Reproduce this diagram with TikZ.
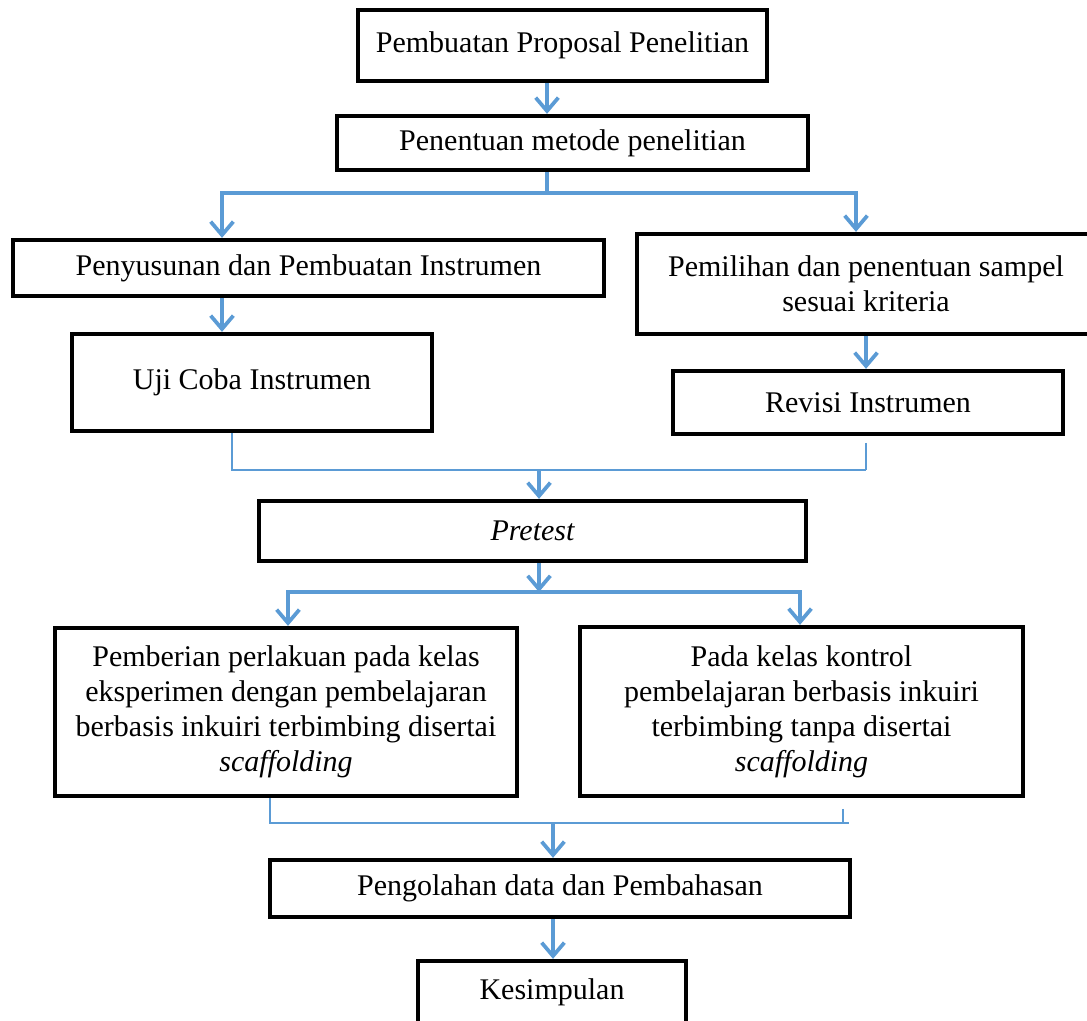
\documentclass[tikz,border=0pt]{standalone}
\usepackage{fontspec}
\setmainfont{Liberation Serif}
\usetikzlibrary{arrows.meta}
\definecolor{flowblue}{HTML}{5B9BD5}
\begin{document}
\begin{tikzpicture}[x=0.75pt,y=-0.75pt,
  box/.style={draw=black, line width=3.2pt, fill=white, align=center, inner sep=0pt,
    font=\fontsize{22.5}{26.25}\selectfont},
  sz/.style 2 args={minimum width=#1*0.75pt, minimum height=#2*0.75pt},
  conn/.style={draw=flowblue, line width=2.8pt},
  thinconn/.style={draw=flowblue, line width=1.6pt},
  arr/.style={conn, -{Straight Barb[length=10pt,width=17pt]}},
]
\useasboundingbox (0,0) rectangle (1087,1020);

% boxes
\node[box, sz={409}{71}]  (b1)  at (562.5,45.5) {Pembuatan Proposal Penelitian};
\node[box, sz={471}{54}]  (b2)  at (572.5,143)  {Penentuan metode penelitian};
\node[box, sz={591}{56}]  (b3)  at (308.5,268)  {Penyusunan dan Pembuatan Instrumen};
\node[box, sz={458}{100}] (b4)  at (866,284)    {Pemilihan dan penentuan sampel\\sesuai kriteria};
\node[box, sz={360}{97}]  (b5)  at (252,382.5)  {Uji Coba Instrumen};
\node[box, sz={390}{63}]  (b6)  at (868,402.5)  {Revisi Instrumen};
\node[box, sz={547}{60}]  (b7)  at (532.5,531)  {\itshape Pretest};
\node[box, sz={462}{168}] (b8)  at (286,712)    {Pemberian perlakuan pada kelas\\eksperimen dengan pembelajaran\\berbasis inkuiri terbimbing disertai\\\itshape scaffolding};
\node[box, sz={443}{169}] (b9)  at (801.5,711.5) {Pada kelas kontrol\\pembelajaran berbasis inkuiri\\terbimbing tanpa disertai\\\itshape scaffolding};
\node[box, sz={580}{57}]  (b10) at (560,888.5)  {Pengolahan data dan Pembahasan};
\node[box, sz={268}{62}]  (b11) at (552,992)    {Kesimpulan};

% junction coordinates
\coordinate (a1) at (547,0);
\coordinate (j1) at (547,193);
\coordinate (jl) at (222,193);
\coordinate (jr) at (856,193);
\coordinate (c2) at (866,0);
\coordinate (m1) at (232,470);
\coordinate (m2) at (866,470);
\coordinate (m3) at (539,470);
\coordinate (p3) at (539,592);
\coordinate (pl) at (288,592);
\coordinate (pr) at (800,592);
\coordinate (q1) at (270,823);
\coordinate (q2) at (843,823);
\coordinate (q2e) at (849,823);
\coordinate (q3) at (553,823);

% connectors
\draw[arr] (b1.south -| a1) -- (b2.north -| a1);
\draw[conn] (b2.south -| j1) -- (j1);
\draw[arr] (jr) -- (jl) -- (b3.north -| jl);
\draw[arr] (jl) -- (jr) -- (b4.north -| jr);
\draw[arr] (b3.south -| jl) -- (b5.north -| jl);
\draw[arr] (b4.south -| c2) -- (b6.north -| c2);

\draw[thinconn] (b5.south -| m1) -- (m1) -- (m2);
\draw[thinconn, shorten <=5pt] (b6.south -| m2) -- (m2);
\draw[arr] (m3) -- (b7.north -| m3);

\draw[arr] (b7.south -| p3) -- (p3);
\draw[arr] (pr) -- (pl) -- (b8.north -| pl);
\draw[arr] (pl) -- (pr) -- (b9.north -| pr);

\draw[thinconn] (b8.south -| q1) -- (q1) -- (q2e);
\draw[thinconn, shorten <=8pt] (b9.south -| q2) -- (q2);
\draw[arr] (q3) -- (b10.north -| q3);
\draw[arr] (b10.south -| q3) -- (b11.north -| q3);
\end{tikzpicture}
\end{document}
